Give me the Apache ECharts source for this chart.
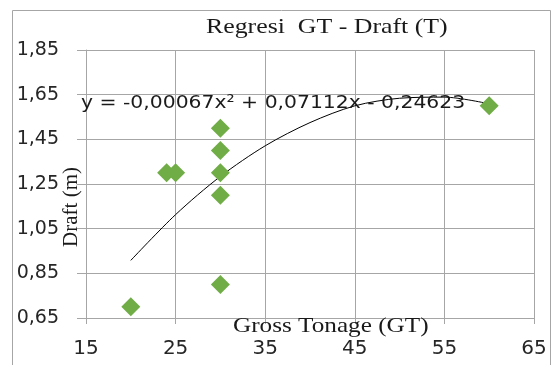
<!DOCTYPE html>
<html>
<head>
<meta charset="utf-8">
<script src="https://cdn.jsdelivr.net/npm/echarts@6/dist/echarts.min.js"></script>
<style>
  html, body { margin: 0; padding: 0; background: #fff; }
  #chart { width: 552px; height: 365px; }
</style>
</head>
<body>
<div id="chart"></div>
<script>
// data
var gtValues = [20, 24, 25, 30, 30, 30, 30, 30, 60];
var draftValues = [0.70, 1.30, 1.30, 1.50, 1.40, 1.30, 1.20, 0.80, 1.60];
// trendline as seen in the picture
var trendX = [20, 25, 30, 35, 40, 45, 50, 55, 60];
var trendY = [0.908, 1.113, 1.284, 1.421, 1.525, 1.600, 1.634, 1.639, 1.609];
var titleText = 'Regresi  GT - Draft (T)';
var equationText = 'y = -0,00067x\u00B2 + 0,07112x - 0,24623';

var chart = echarts.init(document.getElementById('chart'));

function pairs(xs, ys) {
	var res = [];
	for (var i = 0; i < xs.length; i++) {
		res.push([xs[i], ys[i]]);
	}
	return res;
}

var serif = '"Liberation Serif", "DejaVu Serif", serif';
var sans = '"DejaVu Sans", "Liberation Sans", sans-serif';

var option = {
	animation: false,
	backgroundColor: '#fff',
	grid: { left: 86, right: 18, top: 50, bottom: 47 },
	xAxis: {
		type: 'value',
		min: 15, max: 65, interval: 10,
		axisLine: { show: true, lineStyle: { color: '#a6a6a6' } },
		axisTick: { show: true, length: 6, lineStyle: { color: '#a6a6a6' } },
		splitLine: { show: true, lineStyle: { color: '#a6a6a6' } },
		axisLabel: { color: '#262626', fontSize: 20, fontFamily: sans, margin: 21 }
	},
	yAxis: {
		type: 'value',
		min: 0.65, max: 1.85, interval: 0.2,
		axisLine: { show: true, lineStyle: { color: '#a6a6a6' } },
		axisTick: { show: true, length: 9, lineStyle: { color: '#a6a6a6' } },
		splitLine: { show: true, lineStyle: { color: '#a6a6a6' } },
		axisLabel: {
			color: '#262626', fontSize: 19, fontFamily: sans, margin: 27,
			formatter: function (v) { return v.toFixed(2).replace('.', ','); }
		}
	},
	graphic: [
		{ type: 'rect', left: 10, top: 8, shape: { width: 538, height: 400 },
		  style: { fill: 'none', stroke: '#a6a6a6', lineWidth: 1 }, silent: true, z: -1 },
		{ type: 'text', left: 206, top: 17, scaleX: 1.23,
		  style: { text: titleText, font: '21px ' + serif, fill: '#1a1a1a' } },
		{ type: 'text', left: 81, top: 94, z: 10, scaleX: 1.13,
		  style: { text: equationText, font: '18px ' + sans, fill: '#1a1a1a' } },
		{ type: 'text', left: 233, top: 316, z: 10, scaleX: 1.2,
		  style: { text: 'Gross Tonage (GT)', font: '21px ' + serif, fill: '#1a1a1a' } },
		{ type: 'text', left: 61, top: 167, rotation: Math.PI / 2, z: 10,
		  style: { text: 'Draft (m)', font: '21px ' + serif, fill: '#1a1a1a' } }
	],
	series: [
		{
			type: 'line',
			data: pairs(trendX, trendY),
			smooth: 0.3,
			showSymbol: false,
			lineStyle: { color: '#000', width: 1 },
			z: 3
		},
		{
			type: 'scatter',
			data: pairs(gtValues, draftValues),
			symbol: 'diamond',
			symbolSize: [19, 19],
			itemStyle: { color: '#70ad47', opacity: 1 },
			z: 4
		}
	]
};
chart.setOption(option);
</script>
</body>
</html>
